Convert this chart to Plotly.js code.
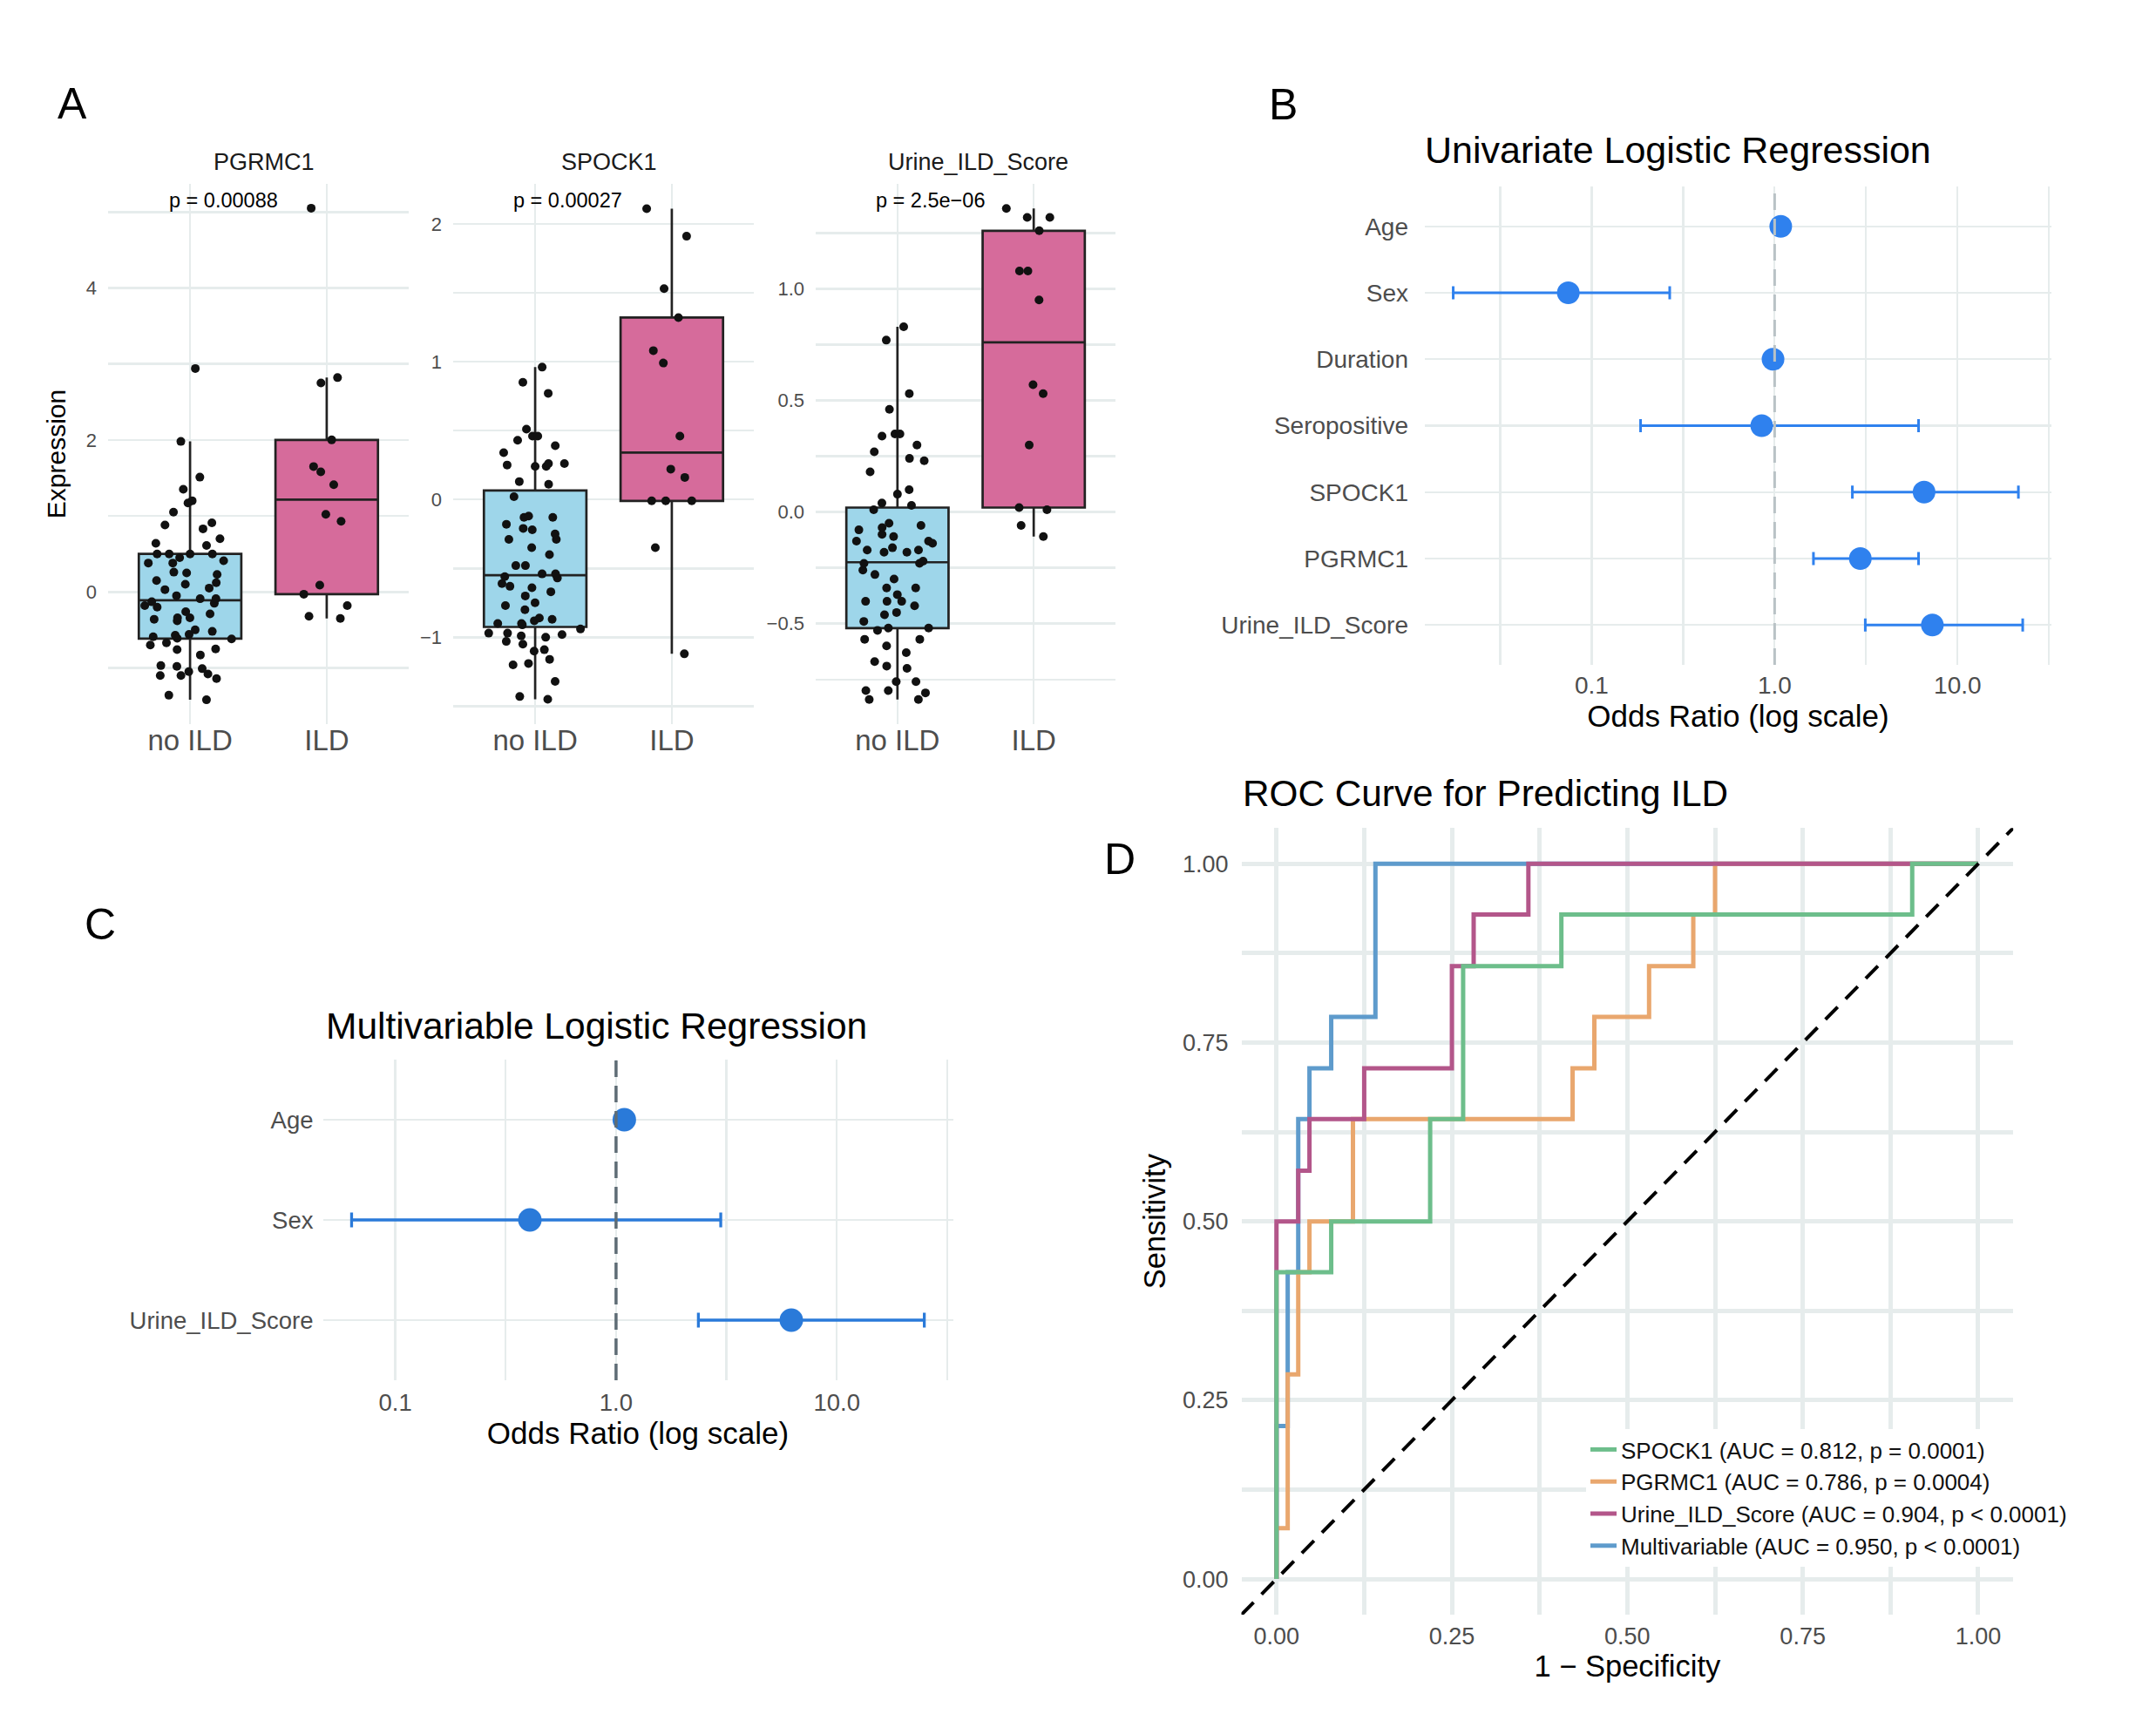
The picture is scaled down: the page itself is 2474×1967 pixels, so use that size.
<!DOCTYPE html>
<html>
<head>
<meta charset="utf-8">
<script src="https://cdn.plot.ly/plotly-3.0.1.min.js"></script>
<style>
  html, body { margin: 0; padding: 0; background: #ffffff; }
  #chart { width: 2474px; height: 1967px; }
</style>
</head>
<body>
<div id="chart"></div>
<script>
// ---------------- DATA ----------------
const groups = ['no ILD', 'ILD'];

const pgrmc1_noILD = [2.94,1.98,1.51,1.35,1.20,1.17,1.05,0.91,0.88,0.83,0.70,0.64,0.61,0.50,0.50,0.50,0.50,0.45,0.41,0.38,
  0.38,0.26,0.25,0.23,0.15,0.12,0.10,0.05,0.03,-0.05,-0.09,-0.09,-0.13,-0.15,-0.18,-0.20,-0.26,-0.29,-0.34,-0.34,
  -0.36,-0.38,-0.50,-0.52,-0.56,-0.57,-0.59,-0.61,-0.62,-0.67,-0.70,-0.75,-0.76,-0.83,-0.97,-0.98,-1.01,-1.05,-1.08,-1.10,
  -1.10,-1.14,-1.36,-1.42];
const pgrmc1_ILD = [5.05,2.82,2.75,2.00,1.65,1.58,1.41,1.02,0.93,0.09,-0.03,-0.18,-0.32,-0.35];

const spock1_noILD = [0.96,0.85,0.77,0.51,0.46,0.46,0.43,0.39,0.34,0.26,0.25,0.26,0.24,0.24,0.13,0.11,0.02,
  -0.12,-0.13,-0.13,-0.18,-0.21,-0.22,-0.25,-0.29,-0.29,-0.35,-0.40,-0.48,-0.48,-0.54,-0.54,-0.56,-0.57,-0.61,-0.63,-0.64,
  -0.67,-0.70,-0.75,-0.77,-0.80,-0.86,-0.87,-0.88,-0.90,-0.90,-0.91,-0.94,-0.97,-0.97,-0.98,-0.99,-1.00,-1.03,-1.05,-1.09,
  -1.10,-1.16,-1.19,-1.20,-1.32,-1.43,-1.45];
const spock1_ILD = [2.11,1.91,1.53,1.32,1.08,0.99,0.46,0.22,0.16,-0.01,-0.01,-0.01,-0.35,-1.12];

const urine_noILD = [0.83,0.77,0.53,0.46,0.35,0.35,0.34,0.30,0.27,0.24,0.23,0.18,0.10,0.08,0.04,0.03,0.01,-0.05,-0.06,-0.07,
  -0.08,-0.10,-0.11,-0.13,-0.13,-0.14,-0.16,-0.17,-0.18,-0.17,-0.18,-0.22,-0.23,-0.23,-0.26,-0.28,-0.30,-0.34,-0.34,-0.37,
  -0.40,-0.40,-0.40,-0.42,-0.45,-0.46,-0.49,-0.52,-0.52,-0.53,-0.57,-0.57,-0.60,-0.63,-0.67,-0.69,-0.70,-0.76,-0.76,-0.80,
  -0.80,-0.81,-0.84,-0.84];
const urine_ILD = [1.36,1.32,1.32,1.26,1.08,1.08,0.95,0.57,0.53,0.30,0.02,0.01,-0.06,-0.11];

const facetNames = ['PGRMC1', 'SPOCK1', 'Urine_ILD_Score'];
const facetP = ['p = 0.00088', 'p = 0.00027', 'p = 2.5e\u221206'];

// Panel B: univariate logistic regression
const uniVars = ['Age','Sex','Duration','Seropositive','SPOCK1','PGRMC1','Urine_ILD_Score'];
const uniOR   = [1.08, 0.0745, 0.98, 0.85, 6.56, 2.94, 7.28];
const uniLo   = [1.03, 0.0175, 0.95, 0.185, 2.66, 1.63, 3.13];
const uniHi   = [1.14, 0.267, 1.01, 6.12, 21.5, 6.12, 22.7];

// Panel C: multivariable logistic regression
const multiVars = ['Age','Sex','Urine_ILD_Score'];
const multiOR   = [1.09, 0.407, 6.22];
const multiLo   = [1.04, 0.0634, 2.36];
const multiHi   = [1.14, 2.98, 24.9];

// Panel D: ROC curves (1 - specificity, sensitivity)
const rocNames = ['SPOCK1 (AUC = 0.812, p = 0.0001)', 'PGRMC1 (AUC = 0.786, p = 0.0004)',
                  'Urine_ILD_Score (AUC = 0.904, p < 0.0001)', 'Multivariable (AUC = 0.950, p < 0.0001)'];
const spock1_fpr = [0, 0, 0.078, 0.219, 0.266, 0.406, 0.906, 1];
const spock1_tpr = [0, 0.429, 0.5, 0.643, 0.857, 0.929, 1, 1];
const pgrmc1_fpr = [0, 0, 0.016, 0.031, 0.047, 0.109, 0.422, 0.453, 0.531, 0.594, 0.625, 1];
const pgrmc1_tpr = [0, 0.071, 0.286, 0.429, 0.5, 0.643, 0.714, 0.786, 0.857, 0.929, 1, 1];
const urine_fpr  = [0, 0, 0.031, 0.047, 0.125, 0.25, 0.281, 0.359, 1];
const urine_tpr  = [0, 0.5, 0.571, 0.643, 0.714, 0.857, 0.929, 1, 1];
const multi_fpr  = [0, 0, 0.016, 0.031, 0.047, 0.078, 0.141, 1];
const multi_tpr  = [0, 0.214, 0.429, 0.643, 0.714, 0.786, 1, 1];

// ---------------- STYLE ----------------
const W = 2474, H = 1967;
const FONT = '"Liberation Sans", Arial, Helvetica, sans-serif';
const GRID = '#E6ECEC';
const TICKC = '#4D4D4D';
const fillNo = '#9ED6EA', fillILD = '#D66B9B';
const colB = '#2F81EE', colC = '#2A7AD9';
const rocCol = {spock: '#6DBE8B', pgrmc: '#E9A76E', urine: '#B3568A', multi: '#5E9BCC'};
const fx = p => p / W;
const fy = p => 1 - p / H;

// ---------------- TRACES ----------------
const traces = [];
const boxSets = [[pgrmc1_noILD, pgrmc1_ILD], [spock1_noILD, spock1_ILD], [urine_noILD, urine_ILD]];
const axSuffix = ['', '2', '3'];
const jitterByGroup = [1.0, 0.55];
boxSets.forEach((set, i) => {
  set.forEach((vals, g) => {
    traces.push({
      type: 'box', y: vals, x0: groups[g], name: groups[g],
      xaxis: 'x' + axSuffix[i], yaxis: 'y' + axSuffix[i],
      width: 0.75, boxpoints: 'all', jitter: jitterByGroup[g], pointpos: 0,
      quartilemethod: 'linear', whiskerwidth: 0,
      fillcolor: g === 0 ? fillNo : fillILD,
      line: {color: '#222222', width: 2.7},
      marker: {color: '#111111', size: 10, opacity: 1},
      showlegend: false, hoverinfo: 'y'
    });
  });
});

function forest(vars, or, lo, hi, ax, col, ms, thick, cap) {
  return {
    type: 'scatter', mode: 'markers', x: or, y: vars,
    xaxis: 'x' + ax, yaxis: 'y' + ax,
    marker: {color: col, size: ms},
    error_x: {type: 'data', symmetric: false,
              array: hi.map((h, k) => h - or[k]),
              arrayminus: lo.map((l, k) => or[k] - l),
              color: col, thickness: thick, width: cap},
    showlegend: false
  };
}
traces.push(forest(uniVars, uniOR, uniLo, uniHi, '4', colB, 26, 3, 7.5));
traces.push(forest(multiVars, multiOR, multiLo, multiHi, '5', colC, 27, 3.3, 8.5));

function roc(x, y, name, col, rank) {
  return {type: 'scatter', mode: 'lines', x: x, y: y, name: name,
          xaxis: 'x6', yaxis: 'y6', legendrank: rank,
          line: {color: col, width: 5, shape: 'hv'}};
}
traces.push(roc(multi_fpr, multi_tpr, rocNames[3], rocCol.multi, 4));
traces.push(roc(pgrmc1_fpr, pgrmc1_tpr, rocNames[1], rocCol.pgrmc, 2));
traces.push(roc(urine_fpr, urine_tpr, rocNames[2], rocCol.urine, 3));
traces.push(roc(spock1_fpr, spock1_tpr, rocNames[0], rocCol.spock, 1));

// ---------------- AXES ----------------
const yDomA = [fy(831), fy(211)];
function catX(domain, anchor) {
  return {domain: domain, anchor: anchor, type: 'category', categoryorder: 'array', categoryarray: groups,
          range: [-0.6, 1.6], showgrid: true, gridcolor: GRID, gridwidth: 2.5, zeroline: false, showline: false,
          ticks: '', tickfont: {family: FONT, size: 33, color: TICKC}, ticklabelstandoff: -4, fixedrange: true};
}
function numY(domain, anchor, range, dtick, minorDtick, fmt) {
  const o = {domain: domain, anchor: anchor, range: range, tick0: 0, dtick: dtick,
             minor: {tick0: 0, dtick: minorDtick, showgrid: true, gridcolor: GRID, gridwidth: 2.5},
             showgrid: true, gridcolor: GRID, gridwidth: 2.5, zeroline: false, showline: false,
             ticks: '', tickfont: {family: FONT, size: 22, color: TICKC}, ticklabelstandoff: 12};
  if (fmt) o.tickformat = fmt;
  return o;
}
const logTicks = [0.1, 1, 10];
const logText = ['0.1', '1.0', '10.0'];
const logMinor = [0.01, 0.1, 1, 10].map(v => v * Math.sqrt(10));

const layout = {
  width: W, height: H,
  margin: {l: 0, r: 0, t: 0, b: 0},
  paper_bgcolor: '#ffffff', plot_bgcolor: '#ffffff',
  font: {family: FONT, color: '#000000'},
  boxmode: 'overlay',
  showlegend: true,
  legend: {x: fx(1820), y: fy(1640), xanchor: 'left', yanchor: 'top', bgcolor: '#ffffff',
           font: {family: FONT, size: 26, color: '#111111'}, traceorder: 'normal', itemwidth: 30},

  xaxis: catX([fx(124), fx(469)], 'y'),
  yaxis: Object.assign(numY(yDomA, 'x', [-1.74, 5.37], 2, 1),
         {title: {text: 'Expression', font: {family: FONT, size: 30, color: '#000000'}, standoff: 14}}),
  xaxis2: catX([fx(520), fx(865)], 'y2'),
  yaxis2: numY(yDomA, 'x2', [-1.63, 2.29], 1, 0.5),
  xaxis3: catX([fx(936), fx(1280)], 'y3'),
  yaxis3: numY(yDomA, 'x3', [-0.95, 1.47], 0.5, 0.25, '.1f'),

  xaxis4: {domain: [fx(1635), fx(2354)], anchor: 'y4', type: 'log', range: [-1.912, 1.513],
           tickmode: 'array', tickvals: logTicks, ticktext: logText,
           minor: {tickmode: 'array', tickvals: logMinor, showgrid: true, gridcolor: GRID, gridwidth: 2.2},
           showgrid: true, gridcolor: GRID, gridwidth: 2.2, zeroline: false, showline: false, ticks: '',
           tickfont: {family: FONT, size: 28, color: TICKC}, ticklabelstandoff: 4,
           title: {text: 'Odds Ratio (log scale)', font: {family: FONT, size: 35, color: '#000000'}, standoff: 4}},
  yaxis4: {domain: [fy(763), fy(214)], anchor: 'x4', type: 'category', categoryorder: 'array',
           categoryarray: uniVars, range: [6.6, -0.6], showgrid: true, gridcolor: GRID, gridwidth: 2.2,
           zeroline: false, showline: false, ticks: '', tickfont: {family: FONT, size: 28, color: TICKC},
           ticklabelstandoff: 18},

  xaxis5: {domain: [fx(370.5), fx(1093.5)], anchor: 'y5', type: 'log', range: [-1.328, 1.526],
           tickmode: 'array', tickvals: logTicks, ticktext: logText,
           minor: {tickmode: 'array', tickvals: logMinor, showgrid: true, gridcolor: GRID, gridwidth: 2.4},
           showgrid: true, gridcolor: GRID, gridwidth: 2.4, zeroline: false, showline: false, ticks: '',
           tickfont: {family: FONT, size: 27.5, color: TICKC}, ticklabelstandoff: 6,
           title: {text: 'Odds Ratio (log scale)', font: {family: FONT, size: 35, color: '#000000'}, standoff: 6}},
  yaxis5: {domain: [fy(1584), fy(1216)], anchor: 'x5', type: 'category', categoryorder: 'array',
           categoryarray: multiVars, range: [2.6, -0.6], showgrid: true, gridcolor: GRID, gridwidth: 2.4,
           zeroline: false, showline: false, ticks: '', tickfont: {family: FONT, size: 27.5, color: TICKC},
           ticklabelstandoff: 10},

  xaxis6: {domain: [fx(1424.5), fx(2310.2)], anchor: 'y6', range: [-0.05, 1.05], tick0: 0, dtick: 0.25,
           tickformat: '.2f', minor: {tick0: 0, dtick: 0.125, showgrid: true, gridcolor: GRID, gridwidth: 5},
           showgrid: true, gridcolor: GRID, gridwidth: 5, zeroline: false, showline: false, ticks: '',
           tickfont: {family: FONT, size: 27, color: TICKC}, ticklabelstandoff: 6,
           title: {text: '1 \u2212 Specificity', font: {family: FONT, size: 34.5, color: '#000000'}, standoff: 4}},
  yaxis6: {domain: [fy(1853.1), fy(950.3)], anchor: 'x6', range: [-0.05, 1.05], tick0: 0, dtick: 0.25,
           tickformat: '.2f', minor: {tick0: 0, dtick: 0.125, showgrid: true, gridcolor: GRID, gridwidth: 5},
           showgrid: true, gridcolor: GRID, gridwidth: 5, zeroline: false, showline: false, ticks: '',
           tickfont: {family: FONT, size: 27, color: TICKC}, ticklabelstandoff: 14,
           title: {text: 'Sensitivity', font: {family: FONT, size: 34.5, color: '#000000'}, standoff: 8}},

  shapes: [
    {type: 'line', xref: 'x4', yref: 'y4 domain', x0: 1, x1: 1, y0: 0, y1: 1, layer: 'above',
     line: {color: '#B9C2C6', width: 3, dash: '19px,10px'}},
    {type: 'line', xref: 'x5', yref: 'y5 domain', x0: 1, x1: 1, y0: 0, y1: 1, layer: 'above',
     line: {color: '#5E6C75', width: 3.5, dash: '19px,10px'}},
    {type: 'line', xref: 'x6', yref: 'y6', x0: -0.05, y0: -0.05, x1: 1.05, y1: 1.05, layer: 'above',
     line: {color: '#000000', width: 4, dash: '20px,13px'}}
  ],
  annotations: []
};

const ann = layout.annotations;
function addText(text, x, y, size, color, xanchor) {
  ann.push({text: text, xref: 'paper', yref: 'paper', x: fx(x), y: fy(y), showarrow: false,
            xanchor: xanchor || 'center', yanchor: 'middle', font: {family: FONT, size: size, color: color}});
}
// panel letters
addText('A', 83, 119, 50, '#000000');
addText('B', 1472, 120, 50, '#000000');
addText('C', 115, 1061, 50, '#000000');
addText('D', 1285, 986, 50, '#000000');
// facet strips and p-values
[303, 699, 1122].forEach((x, i) => addText(facetNames[i], x, 186, 27, '#1A1A1A'));
[256, 651, 1067].forEach((x, i) => addText(facetP[i], x, 230, 23.5, '#000000'));
// panel titles
addText('Univariate Logistic Regression', 1633, 172, 43, '#000000', 'left');
addText('Multivariable Logistic Regression', 372, 1177, 42.5, '#000000', 'left');
addText('ROC Curve for Predicting ILD', 1424, 910, 42.3, '#000000', 'left');

Plotly.newPlot('chart', traces, layout, {staticPlot: true, displayModeBar: false});
</script>
</body>
</html>
